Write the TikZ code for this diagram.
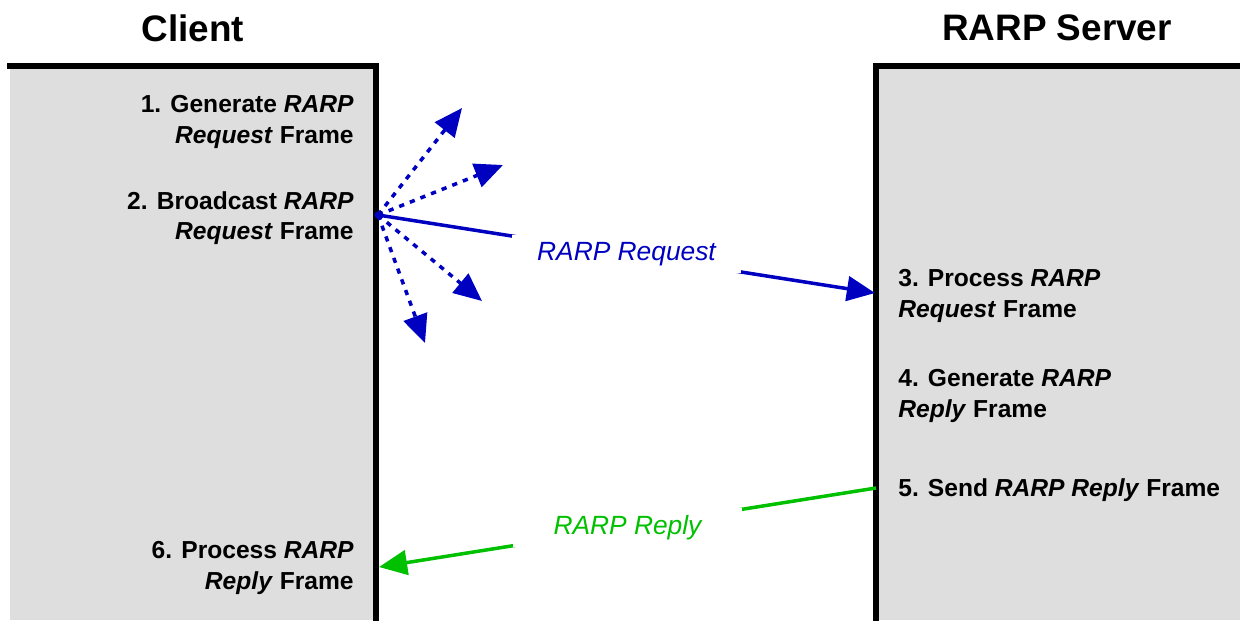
\documentclass[tikz,border=0pt]{standalone}
\usepackage{fontspec}
\setmainfont{Liberation Sans}
\usepackage{tikz}
\usetikzlibrary{arrows.meta,positioning}
\definecolor{rarpblue}{RGB}{0,0,192}
\definecolor{rarpgreen}{RGB}{0,192,0}
\definecolor{panelgrey}{RGB}{222,222,222}

\begin{document}
\begin{tikzpicture}[x=0.02cm,y=-0.02cm,
    title/.style={font=\fontsize{21}{25}\selectfont\bfseries,inner sep=0pt},
    stepl/.style={font=\fontsize{14}{17.3}\selectfont\bfseries,align=right,anchor=east,inner sep=0pt},
    stepr/.style={font=\fontsize{14}{17.3}\selectfont\bfseries,align=left,anchor=west,inner sep=0pt},
    msg/.style={font=\fontsize{15}{18}\selectfont\itshape,fill=white,minimum width=4.6cm,inner ysep=4pt},
    wall/.style={line width=3pt,line cap=rect,line join=miter},
    tip/.style={-{Triangle[length=16pt,width=14pt]}},
    bcast/.style={rarpblue,line width=2pt,dash pattern=on 3pt off 3.5pt,tip}]
  \useasboundingbox (0,0) rectangle (1240,620);
  % panels
  \fill[panelgrey] (10,66) rectangle (376,620);
  \fill[panelgrey] (876,66) rectangle (1240,620);
  \draw[wall] (10,66) -- (376,66) -- (376,620);
  \draw[wall] (1240,66) -- (876,66) -- (876,620);
  \node[title] (clienttitle) at (193,28) {Client};
  \node[title] (servertitle) at (1057,28) {RARP Server};
  % client steps
  \node[stepl] (gen) at (354,122) {1. Generate \textit{RARP}\\\textit{Request} Frame};
  \node[stepl] (bc) at (354,218) {2. Broadcast \textit{RARP}\\\textit{Request} Frame};
  \node[stepl] (procrep) at (354,568) {6. Process \textit{RARP}\\\textit{Reply} Frame};
  % server steps
  \node[stepr] (procreq) at (898,296) {3. Process \textit{RARP}\\\textit{Request} Frame};
  \node[stepr] (genrep) at (898,396) {4. Generate \textit{RARP}\\\textit{Reply} Frame};
  \node[stepr] (send) at (898,490) {5. Send \textit{RARP Reply} Frame};
  % connectors
  \coordinate (origin) at (378,215);
  \coordinate (reqtip) at (875,293);
  \coordinate (reptail) at (876,488);
  \coordinate (reptip) at (379,567);
  \coordinate (b1) at (462,108);
  \coordinate (b2) at (503,165);
  \coordinate (b3) at (482,301);
  \coordinate (b4) at (425,343);
  \foreach \b in {b1,b2,b3,b4}
    \draw[bcast] (origin) -- (\b);
  \draw[rarpblue,line width=2pt,tip] (origin) -- node[msg,text=rarpblue] (reqlbl) {RARP Request} (reqtip);
  \fill[rarpblue] (origin) circle (2pt);
  \draw[rarpgreen,line width=2pt,tip] (reptail) -- node[msg,text=rarpgreen] (replbl) {RARP Reply} (reptip);
\end{tikzpicture}
\end{document}
